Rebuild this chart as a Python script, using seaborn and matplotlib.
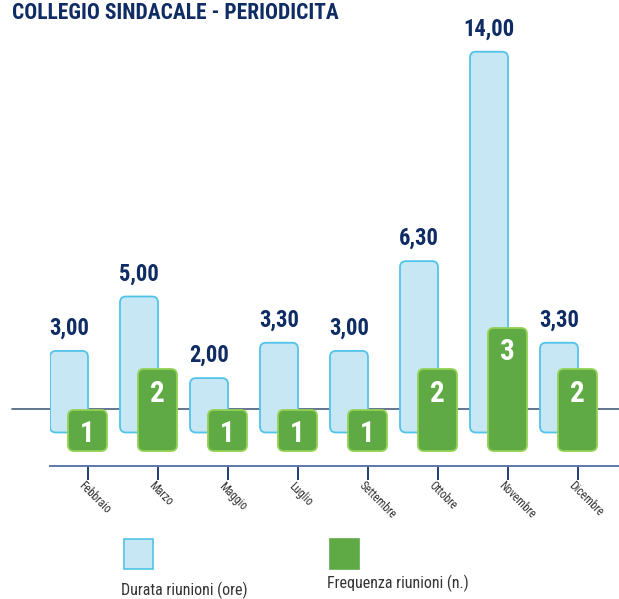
import numpy as np
import pandas as pd
import seaborn as sns
import matplotlib
matplotlib.use("Agg")
import matplotlib.pyplot as plt
from matplotlib.patches import FancyBboxPatch, Rectangle
from matplotlib.lines import Line2D
import logging

logging.getLogger("matplotlib.font_manager").setLevel(logging.ERROR)

# ---- data -------------------------------------------------------------
mesi = ["Febbraio", "Marzo", "Maggio", "Luglio", "Settembre", "Ottobre", "Novembre", "Dicembre"]
durata = [3.00, 5.00, 2.00, 3.30, 3.00, 6.30, 14.00, 3.30]   # ore
frequenza = [1, 2, 1, 1, 1, 2, 3, 2]                           # n. riunioni

titolo = "COLLEGIO SINDACALE - PERIODICITA"
legenda = ["Durata riunioni (ore)", "Frequenza riunioni (n.)"]

# ---- style ------------------------------------------------------------
sns.set_theme(style="white")
FONT = ["Roboto Condensed", "Roboto", "DejaVu Sans"]
plt.rcParams["font.family"] = FONT

NAVY = "#0f2d64"
BLUE_FILL, BLUE_EDGE = "#c6e7f3", "#52c3ea"
GREEN_FILL, GREEN_EDGE = "#5faa45", "#93d153"

W, H = 619, 599
fig = plt.figure(figsize=(W / 100, H / 100), dpi=100)

# axes geometry in pixels
ax_left, ax_right, ax_top, ax_bottom = 50, 619, 20, 466
ax = fig.add_axes([ax_left / W, 1 - ax_bottom / H,
                   (ax_right - ax_left) / W, (ax_bottom - ax_top) / H])
ax2 = ax.twinx()

step = 70.0                       # px between months
x0_px = 69.0                      # centre of first blue bar
blue_zero, blue_ppu = 432.5, 27.2
green_zero, green_ppu = 451.0, 41.0
green_shift = 18.5 / step

xpos = np.arange(len(mesi), dtype=float)
df_b = pd.DataFrame({"x": xpos, "v": durata})
df_g = pd.DataFrame({"x": xpos + green_shift, "v": frequenza})

xl = ((ax_left - x0_px) / step, (ax_right - x0_px) / step)

sns.barplot(data=df_b, x="x", y="v", native_scale=True, width=38 / step,
            color=BLUE_FILL, saturation=1, ax=ax, errorbar=None)
sns.barplot(data=df_g, x="x", y="v", native_scale=True, width=39 / step,
            color=GREEN_FILL, saturation=1, ax=ax2, errorbar=None)

ax.set_xlim(*xl)
ax2.set_xlim(*xl)
ax.set_ylim(-(ax_bottom - blue_zero) / blue_ppu, (blue_zero - ax_top) / blue_ppu)
ax2.set_ylim(-(ax_bottom - green_zero) / green_ppu, (green_zero - ax_top) / green_ppu)


def round_bars(a, ppu, fill, edge, z):
    rad_px = 6.0
    for p in list(a.patches):
        if not isinstance(p, Rectangle):
            continue
        x, y, w, h = p.get_x(), p.get_y(), p.get_width(), p.get_height()
        p.remove()
        aspect = step / ppu
        fb = FancyBboxPatch((x, y), w, h,
                            boxstyle=f"round,pad=0,rounding_size={rad_px / step}",
                            mutation_aspect=aspect, facecolor=fill,
                            edgecolor=edge, linewidth=1.3, zorder=z)
        a.add_patch(fb)


round_bars(ax, blue_ppu, BLUE_FILL, BLUE_EDGE, 2)
round_bars(ax2, green_ppu, GREEN_FILL, GREEN_EDGE, 3)

ax2.set_zorder(ax.get_zorder() + 1)
ax2.patch.set_visible(False)

for a in (ax, ax2):
    for s in a.spines.values():
        s.set_visible(False)
    a.set_xlabel("")
    a.set_ylabel("")
    a.set_yticks([])
ax2.set_xticks([])

# decorative base line behind the bars
base_y = (blue_zero - 408.5) / blue_ppu
ax.add_line(Line2D([(12 - ax_left) / (ax_right - ax_left), 1.0], [base_y, base_y],
                   transform=ax.get_yaxis_transform(), color="#4c5d7c",
                   linewidth=1.2, clip_on=False, zorder=1))

# x axis line and ticks
ax.spines["bottom"].set_visible(True)
ax.spines["bottom"].set_color("#5b78a8")
ax.spines["bottom"].set_linewidth(1.4)
tick_pos = xpos + 19 / step
ax.set_xticks(tick_pos)
ax.set_xticklabels([])
ax.tick_params(axis="x", direction="out", length=10, width=1.3, color=NAVY,
               bottom=True, pad=0)
for t, m in zip(tick_pos, mesi):
    ax.text(t - 7 / step, -(484 - blue_zero) / blue_ppu, m, rotation=-45,
            rotation_mode="anchor", ha="left", va="center", fontsize=8.3,
            color="#333333", clip_on=False)

# value labels
for x, v in zip(xpos, durata):
    ax.text(x, v + 16 / blue_ppu, f"{v:.2f}".replace(".", ","), ha="center",
            va="baseline", fontsize=16.3, fontweight="bold", color=NAVY,
            zorder=5)
for x, v in zip(xpos + green_shift, frequenza):
    ax2.text(x, v - 10.5 / green_ppu, f"{v}", ha="center", va="top",
             fontsize=21, fontweight="bold", color="white", zorder=6)

# title
fig.text(12 / W, 1 - 2 / H, titolo, ha="left", va="top", fontsize=15.5,
         fontweight="bold", color=NAVY)

# legend
for (lx, ty, lbl, fc, ec) in [(124, 590, legenda[0], BLUE_FILL, BLUE_EDGE),
                              (330, 583, legenda[1], GREEN_FILL, GREEN_FILL)]:
    fig.patches.append(Rectangle((lx / W, 1 - 569 / H), 29 / W, 30 / H,
                                 transform=fig.transFigure, facecolor=fc,
                                 edgecolor=ec, linewidth=1.2))
    fig.text((lx - 3) / W, 1 - ty / H, lbl, ha="left", va="center",
             fontsize=11.5, color="#333333")

fig.savefig("out.png", dpi=100)
